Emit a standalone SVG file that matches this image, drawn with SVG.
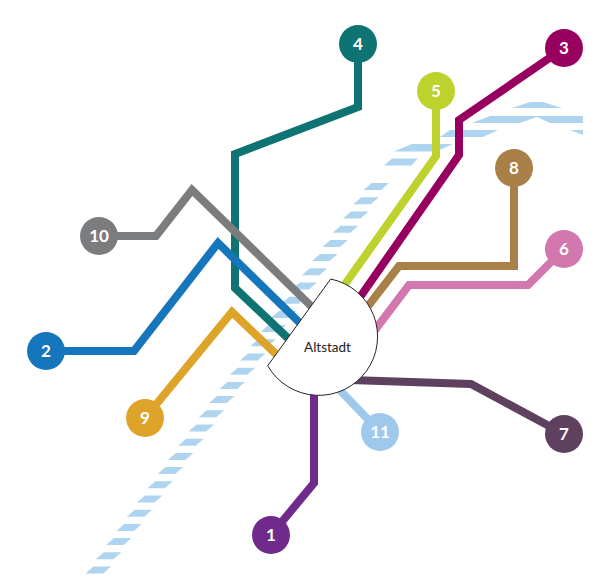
<svg xmlns="http://www.w3.org/2000/svg" width="600" height="580" viewBox="0 0 600 580">
<style>
.c{fill:none;stroke-width:8;stroke-linejoin:miter}
.n{font-family:"Lato","Liberation Sans",sans-serif;font-size:17px;font-weight:700;fill:#fff;text-anchor:middle}
.s{fill:#aed4f0}
</style>
<defs><polygon id="st" points="85.5,573.5 103,573.5 111,566.5 93.5,566.5" class="s"/></defs>
<rect width="600" height="580" fill="#fff"/>
<g id="river">
<use href="#st"/><use href="#st" transform="translate(10.3,-14.2)"/><use href="#st" transform="translate(20.6,-28.4)"/><use href="#st" transform="translate(30.9,-42.6)"/><use href="#st" transform="translate(41.2,-56.8)"/><use href="#st" transform="translate(51.5,-71)"/><use href="#st" transform="translate(61.8,-85.2)"/><use href="#st" transform="translate(72.1,-99.4)"/><use href="#st" transform="translate(82.4,-113.6)"/><use href="#st" transform="translate(92.7,-127.8)"/><use href="#st" transform="translate(103,-142)"/><use href="#st" transform="translate(113.3,-156.2)"/><use href="#st" transform="translate(123.6,-170.4)"/><use href="#st" transform="translate(133.9,-184.6)"/><use href="#st" transform="translate(144.2,-198.8)"/><use href="#st" transform="translate(154.5,-213)"/><use href="#st" transform="translate(164.8,-227.2)"/><use href="#st" transform="translate(175.1,-241.4)"/><use href="#st" transform="translate(185.4,-255.6)"/><use href="#st" transform="translate(195.7,-269.8)"/><use href="#st" transform="translate(206,-284)"/><use href="#st" transform="translate(216.3,-298.2)"/><use href="#st" transform="translate(226.6,-312.4)"/><use href="#st" transform="translate(236.9,-326.6)"/><use href="#st" transform="translate(247.2,-340.8)"/><use href="#st" transform="translate(257.5,-355)"/><use href="#st" transform="translate(267.8,-369.2)"/><use href="#st" transform="translate(278.1,-383.4)"/>
<polygon class="s" points="384,165.5 411,165.5 418,158.5 392,158.5"/>
<polygon class="s" points="394,151.5 412,144 453,144 436,151.5"/>
<polygon class="s" points="440,137 450,130 498,130 483,137"/>
<polygon class="s" points="472,123 490,116 583,116 583,123 550,123 537,117 520,123"/>
<polygon class="s" points="512,108 530,102 543,102 562,108"/>
<polygon class="s" points="570,130 583,130 583,135"/>
</g>
<g id="connectors">
<polyline class="c" stroke="#0e7372" points="358,44 358,107 235,154 235,288 292,342"/>
<polyline class="c" stroke="#7b7c7e" points="99,236 156,236 192,190 312,307"/>
<polyline class="c" stroke="#1576bc" points="46,351 134,351 218,243 302,325"/>
<polyline class="c" stroke="#dea429" points="145,418 232,312 280,358"/>
<polyline class="c" stroke="#bed22e" points="436,91 436,156 343,287"/>
<polyline class="c" stroke="#98005f" points="564,48 459,120 459,155 358,300"/>
<polyline class="c" stroke="#a98148" points="514,168 514,266 399,266 365,310"/>
<polyline class="c" stroke="#d278ae" points="564,249 528,285 409,285 375,330"/>
<polyline class="c" stroke="#5e415e" points="564,434 471,384 350,380"/>
<polyline class="c" stroke="#9ec9ec" points="380,432 335,385"/>
<polyline class="c" stroke="#702a8c" points="271,535 314,483 314,390"/>
</g>
<g id="altstadt"><path d="M330.7,279 L267.7,365.7 A58.8,58.8 0 1 0 330.7,279 Z" fill="#fff" stroke="#222" stroke-width="1"/>
<text x="327.5" y="352" font-family="Lato,'Liberation Sans',sans-serif" font-size="13.5" fill="#222" text-anchor="middle">Altstadt</text></g>
<g id="n1"><circle cx="271" cy="535" r="19" fill="#702a8c"/><text class="n" x="271" y="541">1</text></g>
<g id="n2"><circle cx="46" cy="351" r="19" fill="#1576bc"/><text class="n" x="46" y="357">2</text></g>
<g id="n3"><circle cx="564" cy="48" r="19" fill="#98005f"/><text class="n" x="564" y="54">3</text></g>
<g id="n4"><circle cx="358" cy="44" r="19" fill="#0e7372"/><text class="n" x="358" y="50">4</text></g>
<g id="n5"><circle cx="436" cy="91" r="19" fill="#bed22e"/><text class="n" x="436" y="97">5</text></g>
<g id="n6"><circle cx="564" cy="249" r="19" fill="#d278ae"/><text class="n" x="564" y="255">6</text></g>
<g id="n7"><circle cx="564" cy="434" r="19" fill="#5e415e"/><text class="n" x="564" y="440">7</text></g>
<g id="n8"><circle cx="514" cy="168" r="19" fill="#a98148"/><text class="n" x="514" y="174">8</text></g>
<g id="n9"><circle cx="145" cy="418" r="19" fill="#dea429"/><text class="n" x="145" y="424">9</text></g>
<g id="n10"><circle cx="99" cy="236" r="19" fill="#7b7c7e"/><text class="n" x="99" y="242">10</text></g>
<g id="n11"><circle cx="380" cy="432" r="19" fill="#9ec9ec"/><text class="n" x="380" y="438">11</text></g>
</svg>
